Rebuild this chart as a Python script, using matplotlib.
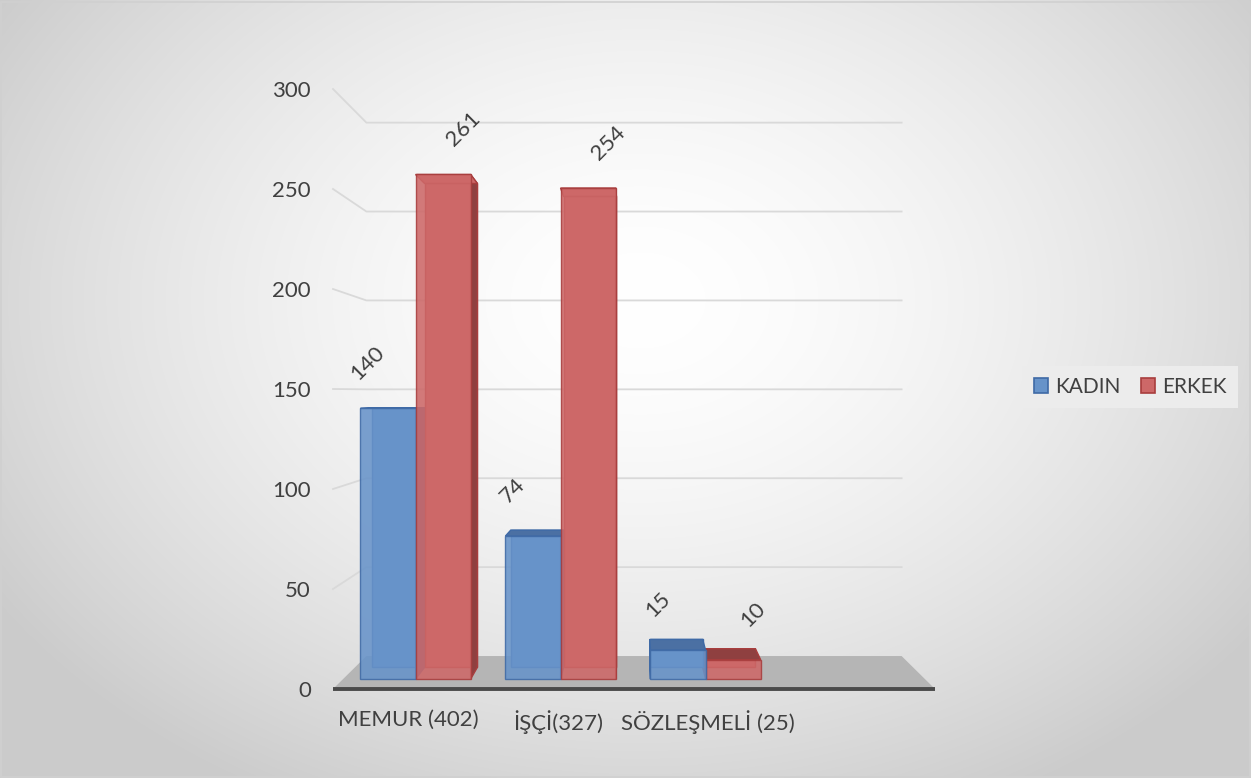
import numpy as np
import matplotlib.pyplot as plt
from matplotlib.patches import Polygon, Patch, Rectangle

plt.rcParams['font.family'] = ['Lato', 'DejaVu Sans']

categories = ["MEMUR (402)", "İŞÇİ(327)", "SÖZLEŞMELİ (25)"]
series = ["KADIN", "ERKEK"]
kadin = [140, 74, 15]
erkek = [261, 254, 10]
y_ticks = [0, 50, 100, 150, 200, 250, 300]

# colours per series: front, edge, shaded side/top
colors = {
    "KADIN": ("#6793c9", "#3f6aa6", "#4b70a3"),
    "ERKEK": ("#cd6868", "#a83d3d", "#8f4040"),
}

# simple perspective: points recede toward a vanishing point as depth d goes 0 -> 1
VP = (1.507, 148.5)
SHRINK = 0.111
D_FRONT, D_BACK = 0.3, 0.66
X_MIN, X_MAX = -0.5, 3.513


def proj(x, v, d):
    f = 1 - SHRINK * d
    return VP[0] + f * (x - VP[0]), VP[1] + f * (v - VP[1])


fig = plt.figure(figsize=(12.51, 7.78), dpi=100)

# radial background
bg = fig.add_axes([0, 0, 1, 1], zorder=-2)
yy, xx = np.mgrid[0:778, 0:1251]
r = np.sqrt(((xx - 640) / 760.0) ** 2 + ((yy - 300) / 560.0) ** 2)
shade = 1.0 - 0.2 * np.clip(r, 0, 1) ** 1.6
bg.imshow(np.dstack([shade] * 3), extent=[0, 1, 0, 1], aspect='auto')
bg.add_patch(Rectangle((0.001, 0.001), 0.998, 0.997, fill=False,
                       edgecolor="#d0d0d0", lw=1.2, transform=bg.transAxes))
bg.axis('off')

ax = fig.add_axes([333 / 1251, 89 / 778, 602 / 1251, 600 / 778])
ax.set_xlim(X_MIN, X_MAX)
ax.set_ylim(0, 300)
ax.patch.set_visible(False)
for s in ax.spines.values():
    s.set_visible(False)

# gridlines: left side wall then back wall
for v in y_ticks[1:]:
    pts = [proj(X_MIN, v, 0), proj(X_MIN, v, 1), proj(X_MAX, v, 1)]
    ax.plot(*zip(*pts), color="#d9d9d9", lw=1.3, zorder=1, clip_on=False)

# floor
floor = [proj(X_MIN, 0, 0), proj(X_MAX, 0, 0), proj(X_MAX, 0, 1), proj(X_MIN, 0, 1)]
ax.add_patch(Polygon(floor, closed=True, facecolor="#b5b5b5", edgecolor="none",
                     zorder=2, clip_on=False))
ax.plot([X_MIN, X_MAX], [0, 0], color="#4a4a4a", lw=2.8, zorder=3,
        solid_capstyle='butt', clip_on=False)


def draw_box(xl, xr, v, name, z):
    face, edge, dark = colors[name]
    df, db = D_FRONT, D_BACK
    back = [proj(xl, 0, db), proj(xr, 0, db), proj(xr, v, db), proj(xl, v, db)]
    front = [proj(xl, 0, df), proj(xr, 0, df), proj(xr, v, df), proj(xl, v, df)]
    left = [proj(xl, 0, df), proj(xl, 0, db), proj(xl, v, db), proj(xl, v, df)]
    right = [proj(xr, 0, df), proj(xr, 0, db), proj(xr, v, db), proj(xr, v, df)]
    top = [proj(xl, v, df), proj(xr, v, df), proj(xr, v, db), proj(xl, v, db)]
    kw = dict(closed=True, edgecolor=edge, lw=1.0, clip_on=False)
    ax.add_patch(Polygon(back, facecolor=face, zorder=z, **kw))
    if xr < VP[0]:
        ax.add_patch(Polygon(right, facecolor=dark, zorder=z + 0.1, **kw))
    if xl > VP[0]:
        ax.add_patch(Polygon(left, facecolor=dark, zorder=z + 0.1, **kw))
    top_col = dark if v < VP[1] else face
    ax.add_patch(Polygon(top, facecolor=top_col, zorder=z + 0.2, **kw))
    ax.add_patch(Polygon(front, facecolor=face, alpha=0.88, zorder=z + 0.3, **kw))


width = 0.38
bars = []
for i, cat in enumerate(categories):
    bars.append((i - width, i, kadin[i], "KADIN"))
    bars.append((i, i + width, erkek[i], "ERKEK"))

# paint bars far from the vanishing point first
bars.sort(key=lambda b: -abs((b[0] + b[1]) / 2 - VP[0]))
for k, (xl, xr, v, name) in enumerate(bars):
    draw_box(xl, xr, v, name, 4 + k)

# value labels, rotated
for xl, xr, v, name in bars:
    cx, cy = proj((xl + xr) / 2, v, D_FRONT)
    dx = -20 if name == "KADIN" else 20
    ax.annotate(str(v), (cx, cy), xytext=(dx * 0.72, 45 * 0.72),
                textcoords='offset points', rotation=45, ha='center',
                va='center', fontsize=16, color="#404040", zorder=30,
                annotation_clip=False)

ax.set_yticks(y_ticks)
ax.set_xticks(range(len(categories)))
ax.set_xticklabels(categories)
ax.tick_params(axis='y', length=0, pad=16, labelsize=16, labelcolor="#404040")
ax.tick_params(axis='x', length=0, pad=15, labelsize=16, labelcolor="#404040")

handles = [Patch(facecolor=colors[s][0], edgecolor=colors[s][1], lw=1.2) for s in series]
leg = fig.legend(handles, series, loc='center', bbox_to_anchor=(0.9033, 0.5026),
                 ncol=2, fontsize=15, frameon=True, fancybox=False,
                 handlelength=0.7, handleheight=0.7, handletextpad=0.3,
                 columnspacing=1.0, borderpad=0.55)
leg.get_frame().set_facecolor("#ececec")
leg.get_frame().set_edgecolor("none")
leg.get_frame().set_alpha(1)
for t in leg.get_texts():
    t.set_color("#404040")

fig.savefig("out.png", dpi=100)
